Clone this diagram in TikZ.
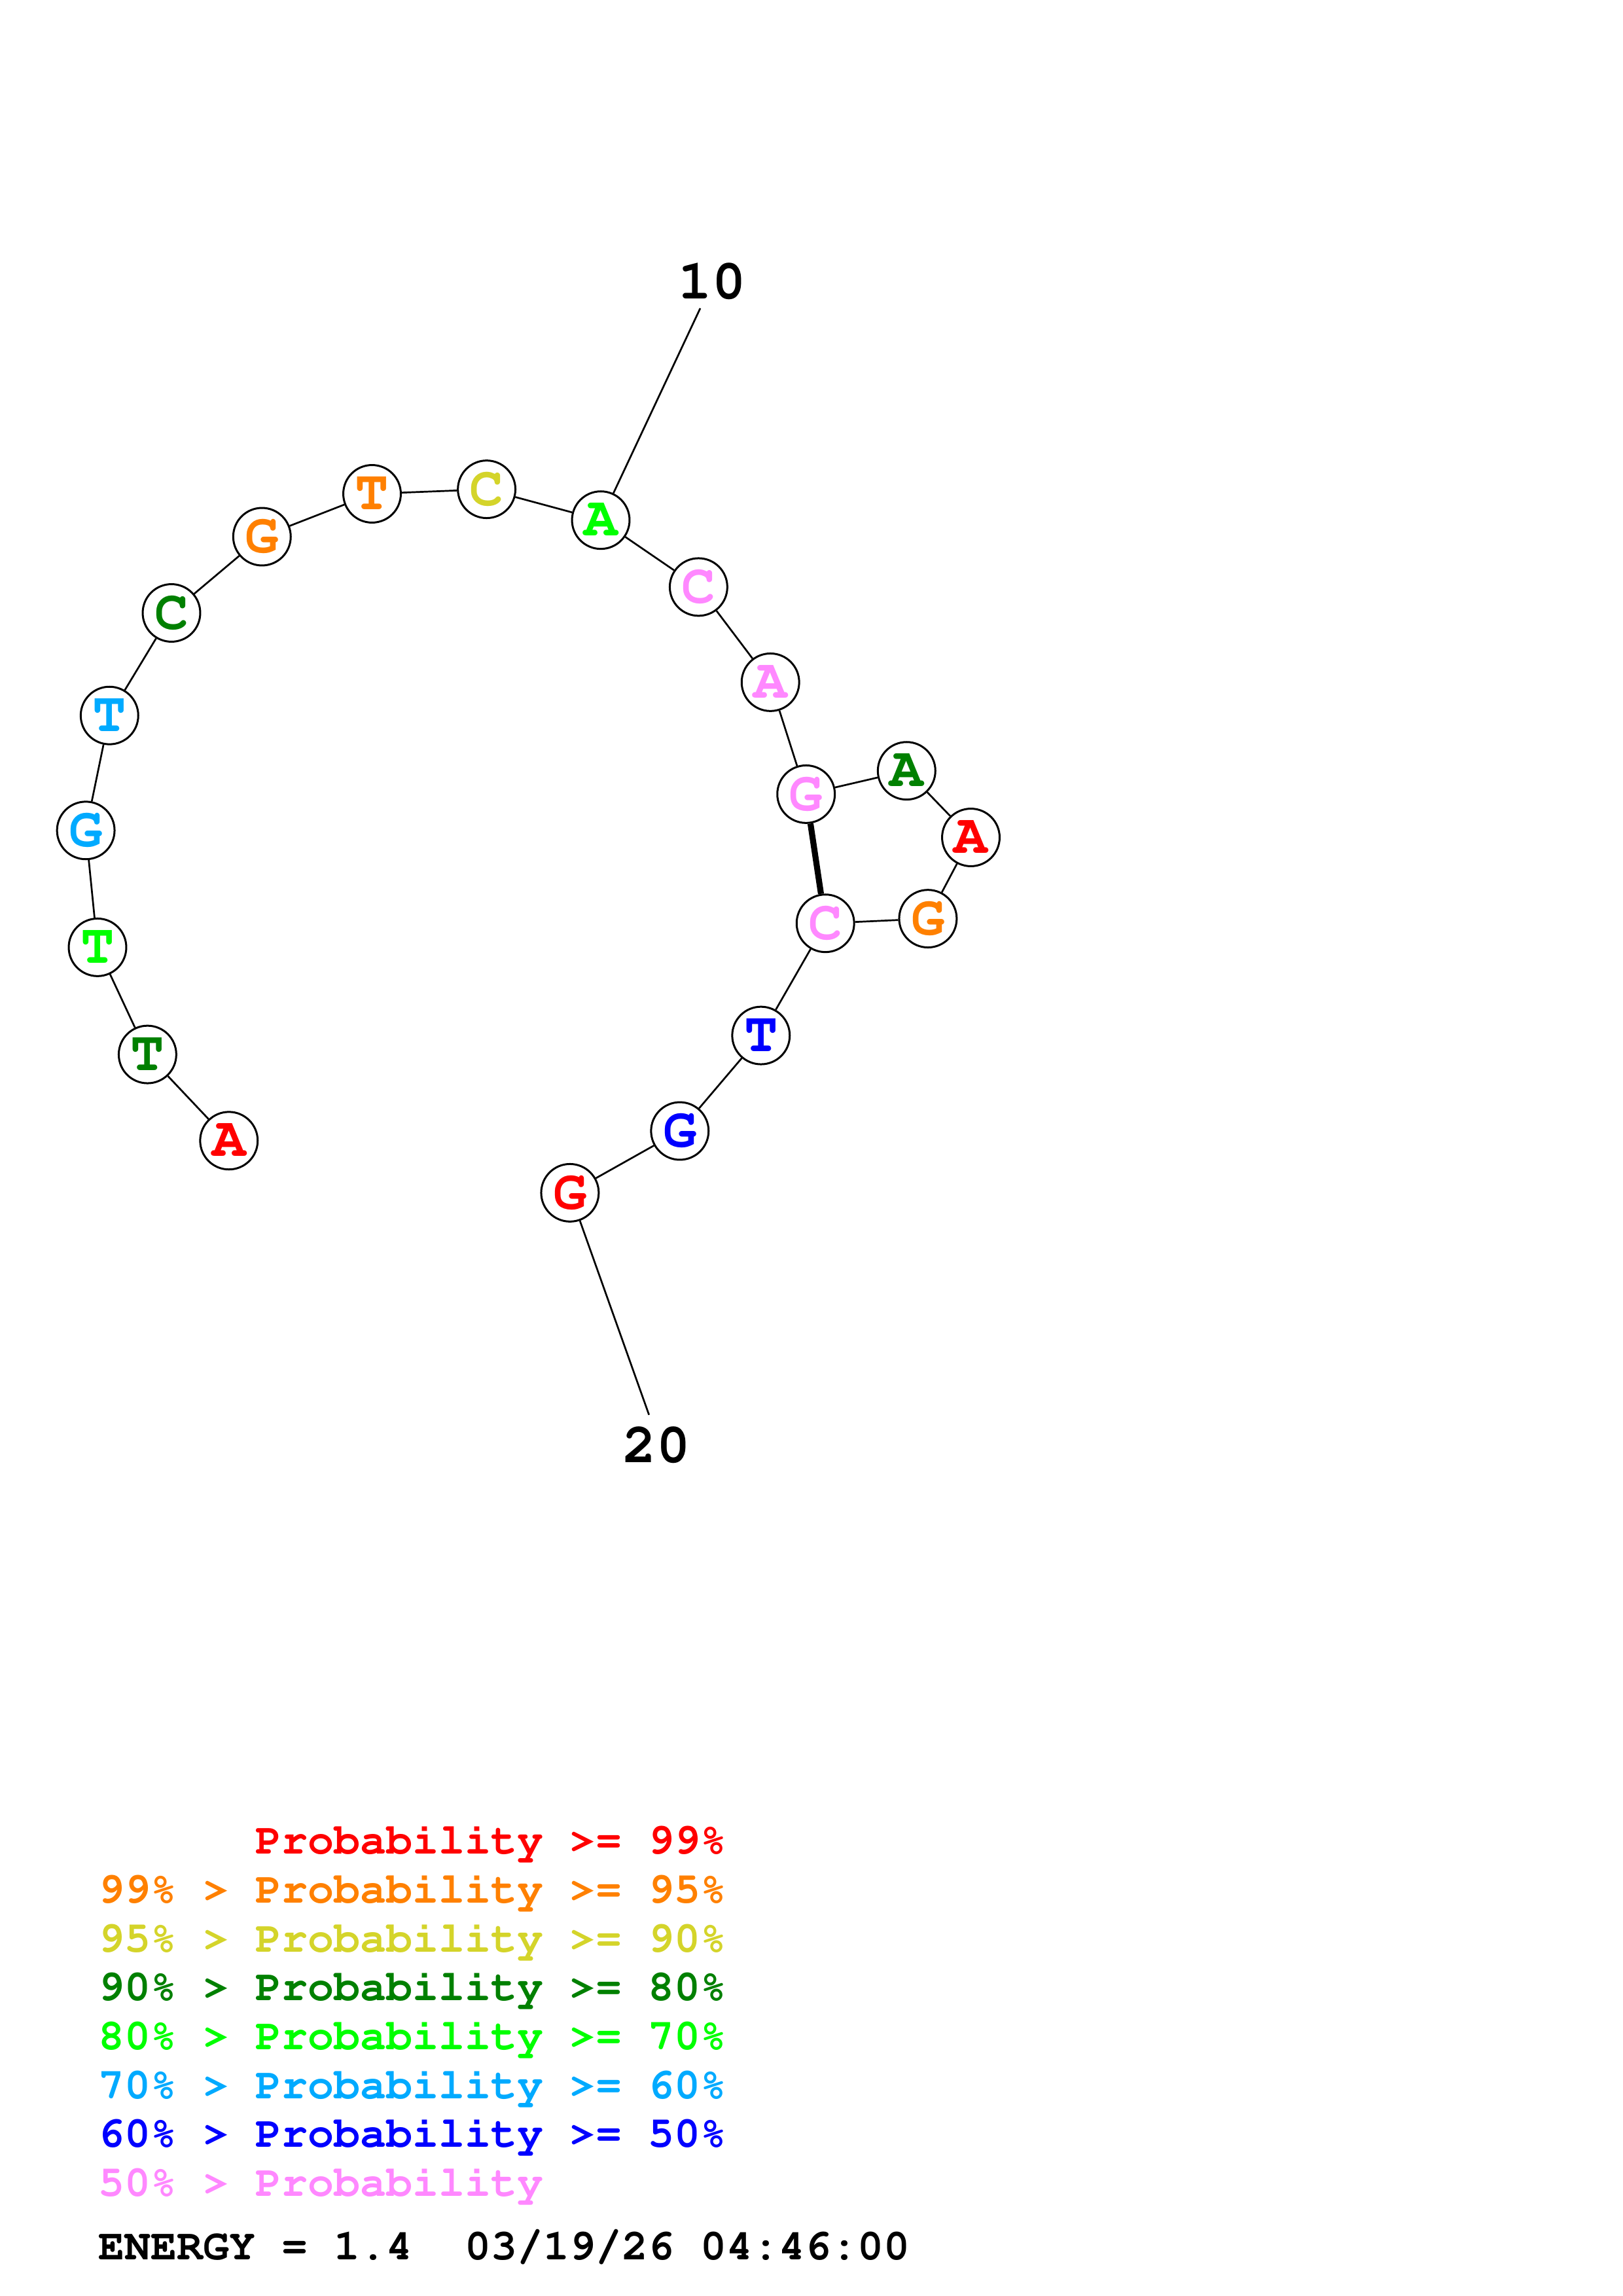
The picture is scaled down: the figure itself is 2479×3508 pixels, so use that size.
\documentclass[tikz,border=0pt]{standalone}
\usepackage[T1]{fontenc}
\usepackage{courier}
\definecolor{cRed}{HTML}{FF0000}
\definecolor{cOrange}{HTML}{FF8000}
\definecolor{cYellow}{HTML}{D4D42A}
\definecolor{cDkGreen}{HTML}{008000}
\definecolor{cGreen}{HTML}{00FF00}
\definecolor{cLtBlue}{HTML}{00AAFF}
\definecolor{cBlue}{HTML}{0000FF}
\definecolor{cPink}{HTML}{FF88FF}
\newcommand\basefont{\fontfamily{pcr}\bfseries\fontsize{20.6}{20.6}\selectfont}
\newcommand\legfont{\fontfamily{pcr}\bfseries\fontsize{16.0}{16.0}\selectfont\frenchspacing}
\begin{document}
\begin{tikzpicture}[x=0.24pt,y=-0.24pt,
  nt/.style={circle, draw=black, line width=0.72pt, fill=white, minimum size=21.1pt, inner sep=0pt, font=\basefont},
  link/.style={draw=black, line width=0.65pt},
  pairlink/.style={draw=black, line width=2.2pt},
  numlabel/.style={font=\basefont, inner sep=0pt, text=black},
  legend/.style={font=\legfont, anchor=base west, inner sep=0pt}]
\useasboundingbox (0,0) rectangle (2479,3508);
\newcommand\base[4]{\node[nt] (#1) at #2 {\raisebox{-0.9pt}{\textcolor{#3}{#4}}};}
\base{n1}{(349.8,1742.8)}{cRed}{A}
\base{n2}{(225.4,1611.1)}{cDkGreen}{T}
\base{n3}{(149.0,1447.4)}{cGreen}{T}
\base{n4}{(131.1,1268.8)}{cLtBlue}{G}
\base{n5}{(167.3,1093.2)}{cLtBlue}{T}
\base{n6}{(262.0,936.5)}{cDkGreen}{C}
\base{n7}{(400.3,820.0)}{cOrange}{G}
\base{n8}{(568.5,754.5)}{cOrange}{T}
\base{n9}{(743.6,747.6)}{cYellow}{C}
\base{n10}{(918.0,794.7)}{cGreen}{A}
\base{n11}{(1067.4,896.9)}{cPink}{C}
\base{n12}{(1177.2,1042.4)}{cPink}{A}
\base{n13}{(1231.7,1213.4)}{cPink}{G}
\base{n14}{(1385.3,1177.7)}{cDkGreen}{A}
\base{n15}{(1483.5,1279.5)}{cRed}{A}
\base{n16}{(1417.9,1403.6)}{cOrange}{G}
\base{n17}{(1261.2,1410.7)}{cPink}{C}
\base{n18}{(1162.8,1582.1)}{cBlue}{T}
\base{n19}{(1038.8,1728.0)}{cBlue}{G}
\base{n20}{(870.9,1822.4)}{cRed}{G}
\foreach \a/\b in {n1/n2,n2/n3,n3/n4,n4/n5,n5/n6,n6/n7,n7/n8,n8/n9,n9/n10,n10/n11,n11/n12,n12/n13,n13/n14,n14/n15,n15/n16,n16/n17,n17/n18,n18/n19,n19/n20}
  \draw[link] (\a) -- (\b);
\draw[pairlink] (n13) -- (n17);
\coordinate (e10) at (1070,471);
\coordinate (e20) at (991.7,2161.7);
\draw[link] (n10) -- (e10);
\draw[link] (n20) -- (e20);
\node[numlabel] (lab10) at (1088,430) {10};
\node[numlabel] (lab20) at (1003,2208.5) {20};
\node[legend, text=cRed] (lg1) at (150,2832.6) {\phantom{99\% > }Probability >= 99\%};
\node[legend, text=cOrange] (lg2) at (150,2907.3) {99\% > Probability >= 95\%};
\node[legend, text=cYellow] (lg3) at (150,2982.0) {95\% > Probability >= 90\%};
\node[legend, text=cDkGreen] (lg4) at (150,3056.7) {90\% > Probability >= 80\%};
\node[legend, text=cGreen] (lg5) at (150,3131.4) {80\% > Probability >= 70\%};
\node[legend, text=cLtBlue] (lg6) at (150,3206.1) {70\% > Probability >= 60\%};
\node[legend, text=cBlue] (lg7) at (150,3280.8) {60\% > Probability >= 50\%};
\node[legend, text=cPink] (lg8) at (150,3355.5) {50\% > Probability};
\node[legend, text=black] (energy) at (150,3452) {ENERGY = 1.4\ \ 03/19/26 04:46:00};
\end{tikzpicture}
\end{document}
